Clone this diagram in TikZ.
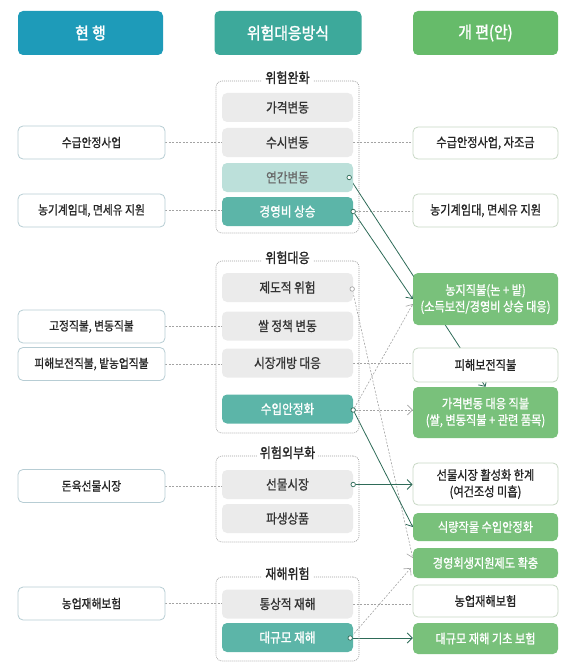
\documentclass[tikz,border=0pt]{standalone}
\usepackage{fontspec}
\setmainfont{Noto Sans CJK KR}[FakeStretch=0.86, FakeBold=1]
\newfontfamily\headfont{Noto Sans CJK KR}[FakeStretch=0.9, FakeBold=1.8]
\usepackage{tikz}
\usetikzlibrary{shapes,arrows.meta,positioning,calc,backgrounds}
\usepackage{xcolor}
\definecolor{hdblue}{HTML}{1E9BB9}
\definecolor{hdteal}{HTML}{3DA99B}
\definecolor{hdgreen}{HTML}{66BB6A}
\definecolor{boxgray}{HTML}{EBEBEB}
\definecolor{tealhot}{HTML}{5CB5A8}
\definecolor{teallight}{HTML}{BCE0DA}
\definecolor{newgreen}{HTML}{79C17B}
\definecolor{lineblue}{HTML}{B7CDD4}
\definecolor{linegreen}{HTML}{C8D8C5}
\definecolor{arrowgreen}{HTML}{2E6B58}
\definecolor{dashgray}{HTML}{A3A3A3}

\begin{document}
\begin{tikzpicture}[x=1pt, y=-1pt,
    every node/.style={inner sep=0pt, align=center, font=\fontsize{12.5}{16}\selectfont},
    head/.style={rounded corners=5pt, minimum width=145pt, minimum height=44pt, text=white, font=\fontsize{16.5}{18}\selectfont\headfont},
    grp/.style={draw=gray!75, dash pattern=on 1pt off 1pt, line width=0.6pt, rounded corners=6pt, minimum width=143pt},
    grptitle/.style={fill=white, inner xsep=3pt, inner ysep=1pt, text=black!85, font=\fontsize{14}{15}\selectfont},
    mid/.style={fill=boxgray, rounded corners=5pt, minimum width=131pt, minimum height=29pt, text=black!80, font=\fontsize{13.5}{15}\selectfont},
    midhot/.style={mid, fill=tealhot, text=white},
    now/.style={draw=lineblue, fill=white, line width=0.8pt, rounded corners=5pt, minimum width=147pt, minimum height=33pt, text=black!85},
    new/.style={draw=linegreen, fill=white, line width=0.8pt, rounded corners=5pt, minimum width=145pt, text=black!85, font=\fontsize{13}{16.5}\selectfont},
    newhot/.style={fill=newgreen, rounded corners=5pt, minimum width=145pt, text=white, font=\fontsize{13}{16.5}\selectfont},
    dot/.style={circle, draw=arrowgreen, fill=white, line width=0.7pt, minimum size=4.5pt},
    link/.style={dashgray, dash pattern=on 2pt off 1.5pt, line width=0.6pt},
    linkarr/.style={link, -{Straight Barb[length=5pt,width=10pt]}},
    flow/.style={arrowgreen, line width=0.8pt, -{Straight Barb[length=5pt,width=10pt]}}
  ]
  \useasboundingbox (0,0) rectangle (577,666);

  % Headers
  \node[head, fill=hdblue] (HeadNow) at (90.5,33) {현 행};
  \node[head, fill=hdteal, minimum width=147pt] (HeadRisk) at (288,33) {위험대응방식};
  \node[head, fill=hdgreen] (HeadNew) at (485.5,33) {개 편(안)};

  % Risk groups
  \node[grp, minimum height=152pt] (GrpMitig) at (287.5,157) {};
  \node[grptitle] (TitleMitig) at ($(GrpMitig.north)+(0,-3)$) {위험완화};
  \node[grp, minimum height=172pt] (GrpResp) at (287.5,347) {};
  \node[grptitle] (TitleResp) at ($(GrpResp.north)+(0,-3)$) {위험대응};
  \node[grp, minimum height=86pt] (GrpExt) at (287.5,499) {};
  \node[grptitle] (TitleExt) at ($(GrpExt.north)+(0,-3)$) {위험외부화};
  \node[grp, minimum height=84pt] (GrpDis) at (287.5,619) {};
  \node[grptitle] (TitleDis) at ($(GrpDis.north)+(0,-3)$) {재해위험};

  % Middle boxes
  \node[mid] (MidPrice) at (287.5,107.5) {가격변동};
  \node[mid] (MidOcc) at (287.5,142.5) {수시변동};
  \node[mid, fill=teallight, text=black!60] (MidYear) at (287.5,177.5) {연간변동};
  \node[midhot] (MidCost) at (287.5,211.5) {경영비 상승};
  \node[mid] (MidInst) at (287.5,287.5) {제도적 위험};
  \node[mid] (MidRice) at (287.5,326) {쌀 정책 변동};
  \node[mid] (MidOpen) at (287.5,363) {시장개방 대응};
  \node[midhot] (MidImp) at (287.5,409) {수입안정화};
  \node[mid] (MidFut) at (287.5,484.5) {선물시장};
  \node[mid] (MidDeriv) at (287.5,518.5) {파생상품};
  \node[mid] (MidNorm) at (287.5,604) {통상적 재해};
  \node[midhot] (MidDis) at (287.5,637.5) {대규모 재해};

  % Current (left)
  \node[now] (NowSupply) at (91.5,142.5) {수급안정사업};
  \node[now] (NowMach) at (91.5,210.5) {농기계임대, 면세유 지원};
  \node[now] (NowFixed) at (91.5,326.5) {고정직불, 변동직불};
  \node[now] (NowDmg) at (91.5,364) {피해보전직불, 밭농업직불};
  \node[now] (NowPork) at (91.5,486) {돈육선물시장};
  \node[now] (NowIns) at (91.5,603.5) {농업재해보험};

  % Reform (right)
  \node[new, minimum height=32pt] (NewSupply) at (485.5,143) {수급안정사업, 자조금};
  \node[new, minimum height=33pt] (NewMach) at (485.5,210.5) {농기계임대, 면세유 지원};
  \node[newhot, minimum height=52pt] (NewLand) at (485.5,299) {농지직불(논 + 밭)\\(소득보전/경영비 상승 대응)};
  \node[new, minimum height=34pt] (NewDmg) at (485.5,365) {피해보전직불};
  \node[newhot, minimum height=51pt] (NewPrice) at (485.5,412.5) {가격변동 대응 직불\\(쌀, 변동직불 + 관련 품목)};
  \node[new, minimum height=42pt] (NewFutLim) at (485.5,484) {선물시장 활성화 한계\\(여건조성 미흡)};
  \node[newhot, minimum height=28pt] (NewFood) at (485.5,527) {식량작물 수입안정화};
  \node[newhot, minimum height=30pt] (NewRecov) at (485.5,563) {경영회생지원제도 확충};
  \node[new, minimum height=32pt] (NewIns) at (485.5,601) {농업재해보험};
  \node[newhot, minimum height=31pt] (NewDisIns) at (485.5,638.5) {대규모 재해 기초 보험};

  % Start dots
  \node[dot] (DotYear) at ($(MidYear.east)+(-4,0)$) {};
  \node[dot] (DotCost) at (MidCost.east) {};
  \node[dot, draw=dashgray] (DotInst) at ($(MidInst.east)+(-1,1.5)$) {};
  \node[dot] (DotImp) at ($(MidImp.east)+(0,1)$) {};
  \node[dot] (DotFut) at (MidFut.east) {};
  \node[dot] (DotDis) at ($(MidDis.east)+(-3,0.5)$) {};

  \begin{scope}[on background layer]
    % current -> risk
    \draw[link] (NowSupply.east) -- (MidOcc.west);
    \draw[link] (NowMach.east) -- (NowMach.east -| MidCost.west);
    \draw[link] (NowFixed.east) -- (NowFixed.east -| MidRice.west);
    \draw[link] (NowDmg.east) -- (NowDmg.east -| MidOpen.west);
    \draw[link] (NowPork.east) -- (NowPork.east -| MidFut.west);
    \draw[link] (NowIns.east) -- (NowIns.east -| MidNorm.west);

    % risk -> reform, dashed
    \draw[link] (MidOcc.east) -- (MidOcc.east -| NewSupply.west);
    \draw[link] (DotCost) -- (DotCost -| NewMach.west);
    \draw[link] (MidOpen.east) -- (MidOpen.east -| NewDmg.west);
    \draw[link] (MidNorm.east) -- (MidNorm.east -| NewIns.west);
    \draw[linkarr] (DotImp) -- (DotImp -| NewPrice.west);
    \draw[linkarr] (DotImp) -- ($(NewLand.west)+(0,5)$);
    \draw[linkarr] (DotInst) -- ($(NewRecov.west)+(0,-5)$);
    \draw[linkarr] (DotDis) -- ($(NewRecov.west)+(-2,5)$);

    % risk -> reform, solid
    \draw[flow] (DotYear) -- (NewPrice.north);
    \draw[flow] (DotCost) -- (NewLand.west);
    \draw[flow] (DotImp) -- (NewFood.west);
    \draw[flow] (DotFut) -- (DotFut -| NewFutLim.west);
    \draw[flow] (DotDis) -- (DotDis -| NewDisIns.west);
  \end{scope}
\end{tikzpicture}
\end{document}
